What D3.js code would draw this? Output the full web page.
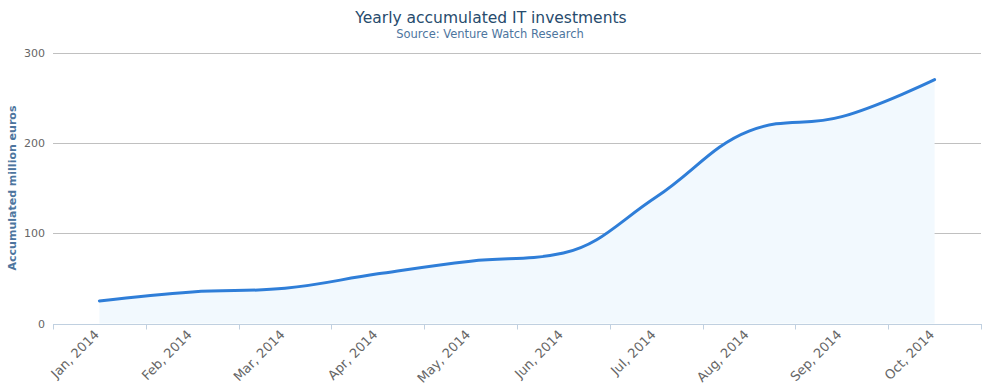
<!DOCTYPE html>
<html>
<head>
<meta charset="utf-8">
<script src="https://cdn.jsdelivr.net/npm/d3@7"></script>
<style>
  html, body { margin: 0; padding: 0; background: #fff; }
  svg { display: block; font-family: "DejaVu Sans", "Lucida Grande", sans-serif; }
</style>
</head>
<body>
<svg id="chart" width="999" height="392"></svg>
<script>
const categories = ["Jan, 2014", "Feb, 2014", "Mar, 2014", "Apr, 2014", "May, 2014",
                    "Jun, 2014", "Jul, 2014", "Aug, 2014", "Sep, 2014", "Oct, 2014"];
const values = [25, 35, 39, 55, 69, 78, 140, 213, 229, 270];
const yTicks = [0, 100, 200, 300];
const titleText = "Yearly accumulated IT investments";
const subtitleText = "Source: Venture Watch Research";
const yTitleText = "Accumulated million euros";

// Highcharts-style spline curve (smoothing 1.5, with false-extreme clamping)
function SplineCurve(context) { this._context = context; }
SplineCurve.prototype = {
  areaStart() { this._line = 0; },
  areaEnd() { this._line = NaN; },
  lineStart() { this._pts = []; },
  point(x, y) { this._pts.push([+x, +y]); },
  lineEnd() {
    const p = this._pts, n = p.length, ctx = this._context;
    if (n) {
      if (this._line) ctx.lineTo(p[0][0], p[0][1]); else ctx.moveTo(p[0][0], p[0][1]);
      const s = 1.5, d = s + 1;
      const L = [], R = [];
      for (let i = 0; i < n; i++) {
        const [x, y] = p[i];
        if (i === 0 || i === n - 1) { L.push([x, y]); R.push([x, y]); continue; }
        const [lx, ly] = p[i - 1], [nx, ny] = p[i + 1];
        let lcx = (s * x + lx) / d, lcy = (s * y + ly) / d;
        let rcx = (s * x + nx) / d, rcy = (s * y + ny) / d;
        let corr = 0;
        if (rcx !== lcx) corr = ((rcy - lcy) * (rcx - x)) / (rcx - lcx) + y - rcy;
        lcy += corr; rcy += corr;
        if (lcy > ly && lcy > y) { lcy = Math.max(ly, y); rcy = 2 * y - lcy; }
        else if (lcy < ly && lcy < y) { lcy = Math.min(ly, y); rcy = 2 * y - lcy; }
        if (rcy > ny && rcy > y) { rcy = Math.max(ny, y); lcy = 2 * y - rcy; }
        else if (rcy < ny && rcy < y) { rcy = Math.min(ny, y); lcy = 2 * y - rcy; }
        L.push([lcx, lcy]); R.push([rcx, rcy]);
      }
      for (let i = 1; i < n; i++) {
        ctx.bezierCurveTo(R[i - 1][0], R[i - 1][1], L[i][0], L[i][1], p[i][0], p[i][1]);
      }
    }
    if (this._line || (this._line !== 0 && n === 1)) ctx.closePath();
    this._line = 1 - this._line;
  }
};
const spline = ctx => new SplineCurve(ctx);

const svg = d3.select("#chart");
const plotLeft = 53, plotRight = 981, plotTop = 52.5, plotBottom = 323.5;

const x = d3.scaleBand().domain(categories).range([plotLeft, plotRight]).padding(0);
const y = d3.scaleLinear().domain([0, 300]).range([plotBottom, plotTop]);
const cx = d => x(d) + x.bandwidth() / 2;

// gridlines
svg.append("g").selectAll("line").data(yTicks.filter(t => t > 0)).join("line")
  .attr("x1", plotLeft).attr("x2", plotRight)
  .attr("y1", d => Math.round(y(d)) + 0.5).attr("y2", d => Math.round(y(d)) + 0.5)
  .attr("stroke", "#C0C0C0").attr("stroke-width", 1);

// y tick labels
svg.append("g").selectAll("text").data(yTicks).join("text")
  .attr("x", plotLeft - 8).attr("y", d => y(d) + 4)
  .attr("text-anchor", "end").attr("font-size", 11).attr("fill", "#666666")
  .text(d => d);

// y axis title
svg.append("text")
  .attr("transform", `translate(15.5,${(plotTop + plotBottom) / 2}) rotate(-90)`)
  .attr("text-anchor", "middle").attr("font-size", 11).attr("font-weight", "bold")
  .attr("fill", "#4d759e").text(yTitleText);

// area
const area = d3.area().x((d, i) => cx(categories[i])).y0(y(0)).y1(d => y(d)).curve(spline);
svg.append("path").datum(values).attr("d", area).attr("fill", "#f2f9fe");

// line
const line = d3.line().x((d, i) => cx(categories[i])).y(d => y(d)).curve(spline);
svg.append("path").datum(values).attr("d", line)
  .attr("fill", "none").attr("stroke", "#2f7ed8").attr("stroke-width", 3)
  .attr("stroke-linejoin", "round").attr("stroke-linecap", "round");

// x axis
const xAxisY = Math.round(y(0)) + 0.5;
svg.append("line").attr("x1", plotLeft).attr("x2", plotRight + 1).attr("y1", xAxisY).attr("y2", xAxisY)
  .attr("stroke", "#C0D0E0").attr("stroke-width", 1);
const edges = categories.map(c => x(c)).concat([plotRight]);
svg.append("g").selectAll("line").data(edges).join("line")
  .attr("x1", d => Math.round(d) + 0.5).attr("x2", d => Math.round(d) + 0.5)
  .attr("y1", xAxisY).attr("y2", xAxisY + 5)
  .attr("stroke", "#C0D0E0").attr("stroke-width", 1);

svg.append("g").selectAll("text").data(categories).join("text")
  .attr("transform", d => `translate(${cx(d) + 0.5},${plotBottom + 12}) rotate(-45)`)
  .attr("text-anchor", "end").attr("font-size", 13).attr("fill", "#666666")
  .text(d => d);

// titles
svg.append("text").attr("x", 491).attr("y", 23).attr("text-anchor", "middle")
  .attr("font-size", 15.5).attr("fill", "#274b6d").text(titleText);
svg.append("text").attr("x", 490).attr("y", 38).attr("text-anchor", "middle")
  .attr("font-size", 11.5).attr("fill", "#4d759e").text(subtitleText);
</script>
</body>
</html>
